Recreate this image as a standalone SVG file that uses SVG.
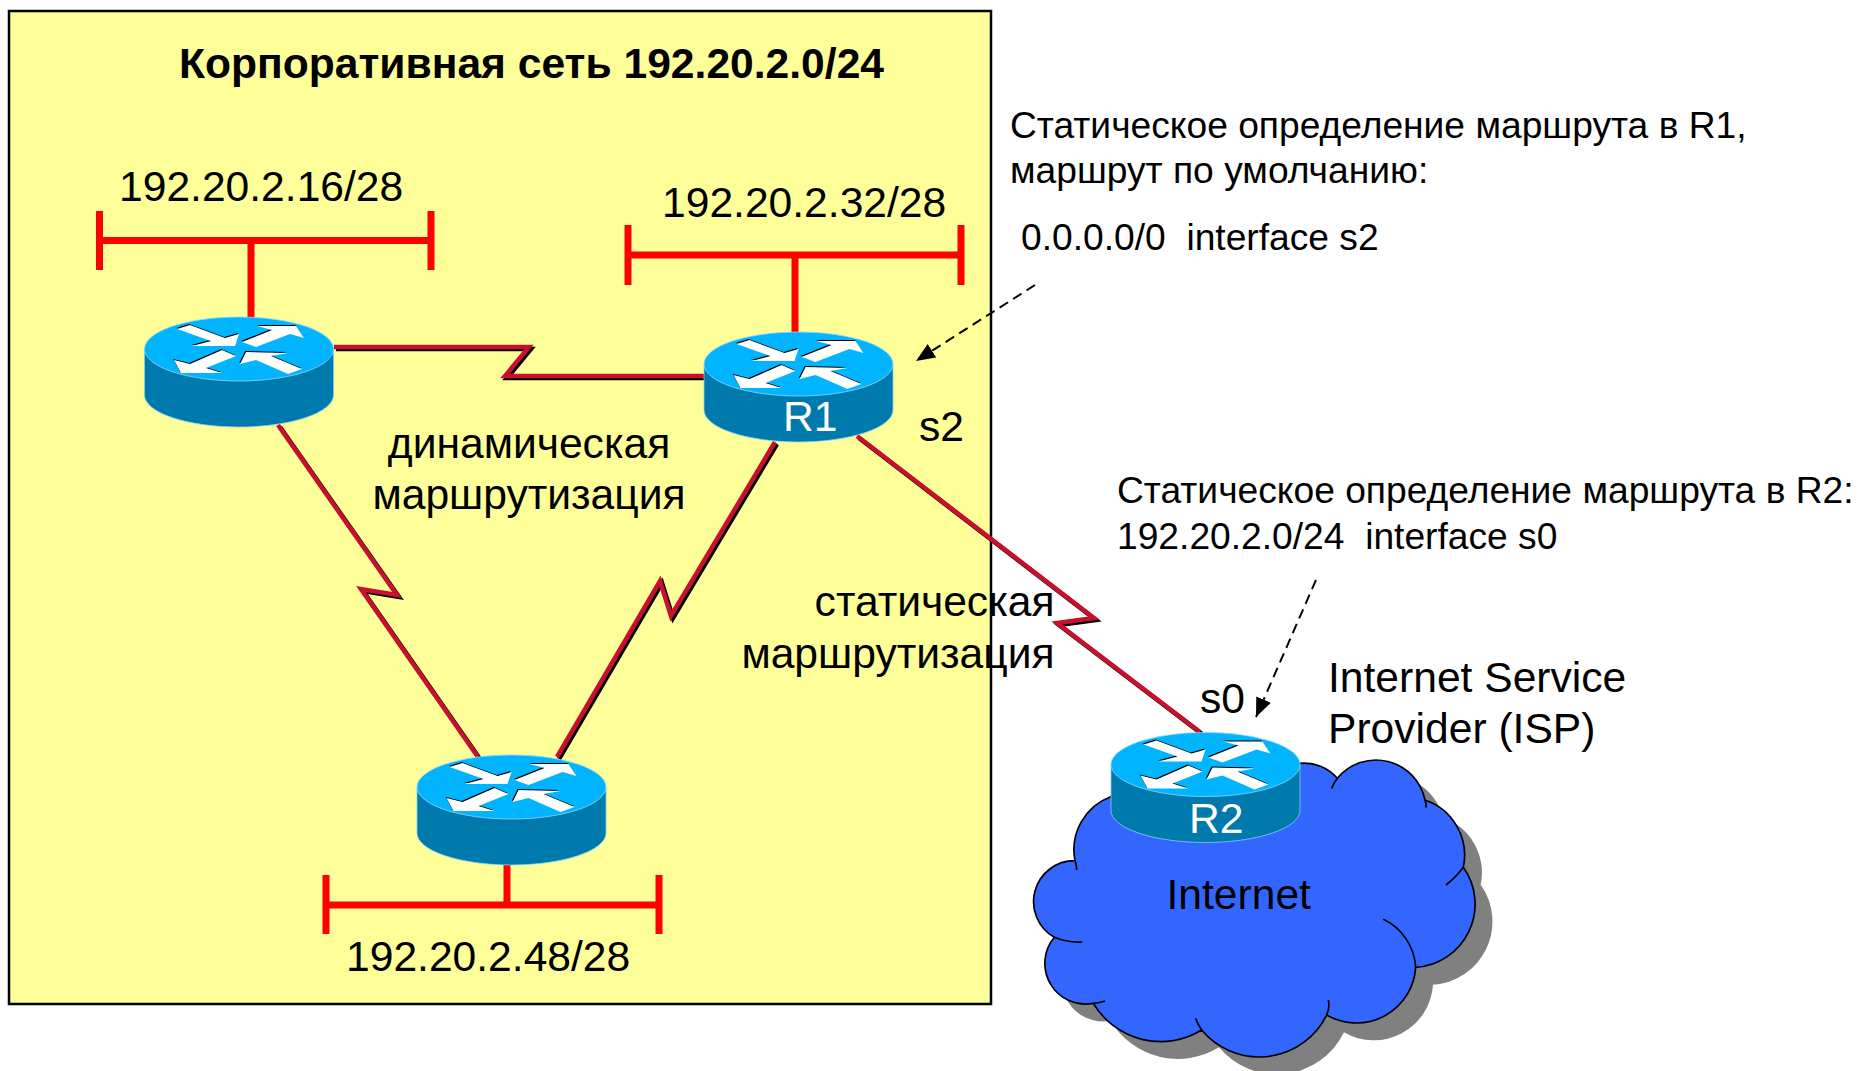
<svg xmlns="http://www.w3.org/2000/svg" width="1859" height="1071" viewBox="0 0 1859 1071">
<style>
text{font-family:"Liberation Sans",Arial,sans-serif;fill:#000;white-space:pre}
.t42{font-size:42.6px}.t36{font-size:37.2px}.w{fill:#fff}
.lan{fill:none;stroke:#f00;stroke-width:7}
.ser{fill:none;stroke:#c8102e;stroke-width:4.5;stroke-linejoin:miter}
.sh{fill:none;stroke:#000;stroke-width:4.5}
.dash{fill:none;stroke:#000;stroke-width:2;stroke-dasharray:10 6}
.cl{fill:#36f;stroke:#000;stroke-width:5}
.tick{fill:none;stroke:#000;stroke-width:5}
</style>
<defs>
<marker id="ah" markerUnits="userSpaceOnUse" markerWidth="22" markerHeight="20" refX="19" refY="8" orient="auto"><path d="M0,0L19,8L0,16Z" fill="#000"/></marker>
<path id="ar" d="M-62,-20L-49,-24L-14,-11L0,-15L-4,-3L-47,-3L-28,-8ZM3,-7L33,-19L18,-23L57,-23L65,-11L51,-15L17,-2ZM-65,11L-49,15L-17,1L-3,7L-33,19L-17,24L-58,24ZM1,15L7,3L49,4L32,7L63,20L49,25L17,11Z"/>
<g id="router">
<path d="M-94.5,0V46A94.5,32 0 0 0 94.5,46V0Z" fill="#0079ad" stroke="#7fd0f5" stroke-width="0.8"/>
<ellipse cx="0" cy="0" rx="94.5" ry="32" fill="#00b4ff" stroke="#8fd8ff" stroke-width="0.8"/>
<use href="#ar" fill="#000" x="-0.8" y="-1"/>
<use href="#ar" fill="#fff"/>
</g>
<path id="cloud" d="M840,250A130,130 0 0 1 952,295A150,150 0 0 1 1215,360A175,175 0 0 1 1330,562A190,190 0 0 1 1187,862A178,178 0 0 1 920,1005A225,225 0 0 1 545,1050A235,235 0 0 1 220,970A122,122 0 0 1 103,772A123,123 0 0 1 165,542A170,170 0 0 1 272,350Z"/>
</defs>

<rect id="corp" x="9" y="11" width="982" height="993" fill="#ff9" stroke="#000" stroke-width="2.5"/>

<g id="internet">
<g transform="translate(1020,680) scale(.33333)">
<use href="#cloud" x="52" y="52" fill="#808080"/>
<use href="#cloud" class="cl"/>
<path class="tick" d="M952,295Q942,308 935,325M1215,360Q1219,370 1218,383M1330,562Q1308,592 1278,615M1187,862A170,170 0 0 0 1090,718M920,1005Q930,985 925,960M545,1050Q532,1032 527,1015M220,970Q240,968 255,963M103,772Q140,788 187,786M165,542Q170,555 170,570"/>
</g>
<text class="t42" x="1166.500" y="909">Internet</text>
</g>

<g id="connectors">
<g class="lans">
<path class="lan" d="M99.500,240.500H431M99.500,211V270M431,211V270M251,241V318"/>
<path class="lan" d="M628,255H961M628,225V285M961,225V285M795,255V333"/>
<path class="lan" d="M326,905H659M326,875V934M659,875V934M507,865V905"/>
</g>
<g transform="translate(2,2)">
<path class="sh" d="M334,347H529L505,376H705"/>
<path class="sh" d="M278,425L397,595L361,589L478,757"/>
<path class="sh" d="M775,442L671,616L660,581L557,757"/>
<path class="sh" d="M857,436L1094,618L1057,623L1200,732"/>
</g>
<path class="ser" d="M334,347H529L505,376H705"/>
<path class="ser" d="M278,425L397,595L361,589L478,757"/>
<path class="ser" d="M775,442L671,616L660,581L557,757"/>
<path class="ser" d="M857,436L1094,618L1057,623L1200,732"/>
<path class="dash" d="M1035,285L916,361" marker-end="url(#ah)"/>
<path class="dash" d="M1316,580L1256,717" marker-end="url(#ah)"/>
</g>

<g id="routerA"><use href="#router" x="239" y="349"/></g>
<g id="routerR1"><use href="#router" x="798.5" y="364"/><text class="t42 w" x="783" y="431">R1</text></g>
<g id="routerC"><use href="#router" x="511.5" y="787"/></g>
<g id="routerR2"><use href="#router" x="1205.5" y="764.5"/><text class="t42 w" x="1189" y="833">R2</text></g>

<g id="labels">
<text x="531.500" y="78" text-anchor="middle" font-weight="bold" font-size="42.6">Корпоративная сеть 192.20.2.0/24</text>
<text class="t42" x="119" y="201">192.20.2.16/28</text>
<text class="t42" x="662" y="217">192.20.2.32/28</text>
<text class="t42" x="346" y="971">192.20.2.48/28</text>
<text class="t36" x="1010" y="138">Статическое определение маршрута в R1,</text>
<text class="t36" x="1010" y="183">маршрут по умолчанию:</text>
<text class="t36" x="1021" y="250">0.0.0.0/0  interface s2</text>
<text class="t42" x="529" y="458" text-anchor="middle">динамическая</text>
<text class="t42" x="529" y="509" text-anchor="middle">маршрутизация</text>
<text class="t42" x="1054.500" y="616" text-anchor="end">статическая</text>
<text class="t42" x="1054.500" y="668" text-anchor="end">маршрутизация</text>
<text class="t42" x="919" y="441">s2</text>
<text class="t42" x="1200" y="713">s0</text>
<text class="t36" x="1117" y="503">Статическое определение маршрута в R2:</text>
<text class="t36" x="1117" y="549">192.20.2.0/24  interface s0</text>
<text class="t42" x="1328" y="692">Internet Service</text>
<text class="t42" x="1328" y="743">Provider (ISP)</text>
</g>
</svg>
